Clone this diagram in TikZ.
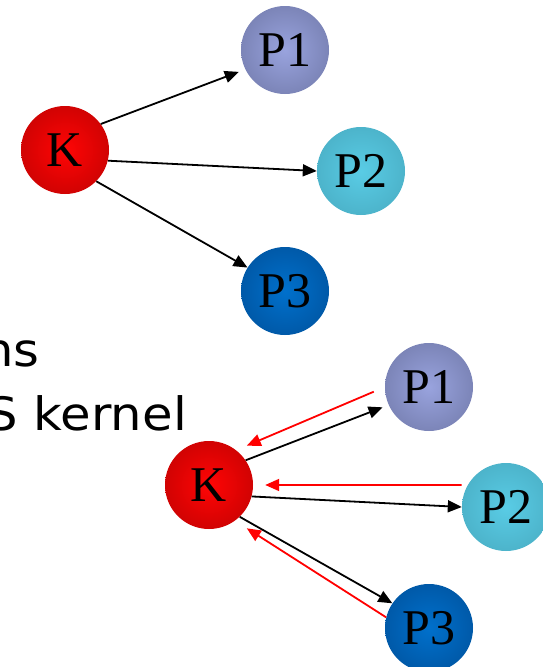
\documentclass[tikz,border=0pt]{standalone}
\usepackage{fontspec}
\setmainfont{Liberation Serif}
\newfontfamily\labelsans[FakeStretch=1.08]{DejaVu Sans}
\usetikzlibrary{arrows.meta}
\pgfdeclareradialshading{kball}{\pgfpoint{0bp}{0bp}}{rgb(0bp)=(1,0.02,0.02);rgb(50bp)=(0.64,0,0)}
\pgfdeclareradialshading{pone}{\pgfpoint{0bp}{0bp}}{rgb(0bp)=(0.60,0.64,0.87);rgb(50bp)=(0.37,0.40,0.57)}
\pgfdeclareradialshading{ptwo}{\pgfpoint{0bp}{0bp}}{rgb(0bp)=(0.35,0.80,0.90);rgb(50bp)=(0.25,0.61,0.69)}
\pgfdeclareradialshading{pthree}{\pgfpoint{0bp}{0bp}}{rgb(0bp)=(0.0,0.44,0.80);rgb(50bp)=(0.0,0.26,0.52)}
\tikzset{
  ball/.style={circle,minimum size=88pt,inner sep=0pt,font=\fontsize{50}{50}\selectfont},
  kb/.style={ball,shading=kball},
  p1b/.style={ball,shading=pone},
  p2b/.style={ball,shading=ptwo},
  p3b/.style={ball,shading=pthree},
  arr/.style={line width=1.8pt,-{Triangle[length=14pt,width=12pt]}},
  rarr/.style={arr,red},
  sans/.style={font=\labelsans\fontsize{46}{46}\selectfont,inner sep=0pt,anchor=base east}
}
\begin{document}
\begin{tikzpicture}[x=1pt,y=-1pt]
\useasboundingbox (0,0) rectangle (543,667);
% top diagram
\node[kb]  (K1) at (65,150) {K};
\node[p1b] (A1) at (285,50) {P1};
\node[p2b] (A2) at (361,171) {P2};
\node[p3b] (A3) at (285,291) {P3};
\draw[arr,shorten >=7pt] (K1.36) -- (A1.206);
\draw[arr] (K1.-14) -- (A2.west);
\draw[arr] (K1.-45) -- (A3.148);
% text
\node[sans] (t1) at (40,366) {ns};
\node[sans] (t2) at (187,430) {S kernel};
% bottom diagram
\node[kb]  (K2) at (209,485) {K};
\node[p1b] (B1) at (429,387) {P1};
\node[p2b] (B2) at (506,507) {P2};
\node[p3b] (B3) at (429,628) {P3};
\draw[arr,shorten >=6.5pt] (K2.34) -- (B1.204.5);
\draw[rarr,shorten <=12pt,shorten >=11.5pt] (B1.180) -- (K2.52);
\draw[arr] (K2.-15.6) -- (B2.west);
\draw[rarr,shorten <=6pt,shorten >=12pt] (B2.150) -- (K2.east);
\draw[arr] (K2.-46) -- (B3.146);
\draw[rarr,shorten >=14pt] (B3.166) -- (K2.-54);
\end{tikzpicture}
\end{document}
